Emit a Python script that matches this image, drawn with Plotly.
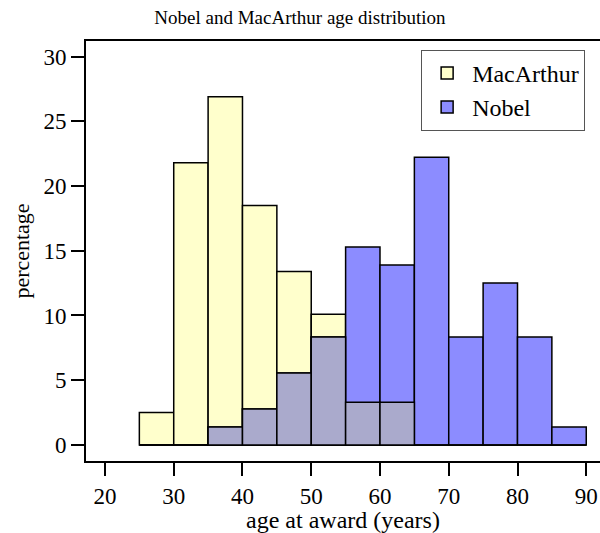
import plotly.graph_objects as go

bin_centers = [27.5, 32.5, 37.5, 42.5, 47.5, 52.5, 57.5, 62.5, 67.5, 72.5, 77.5, 82.5, 87.5]
macarthur = [2.5, 21.8, 26.9, 18.5, 13.4, 10.1, 3.3, 3.3, 0, 0, 0, 0, 0]
nobel = [0, 0, 1.39, 2.78, 5.56, 8.33, 15.28, 13.89, 22.22, 8.33, 12.5, 8.33, 1.39]
overlap = [min(a, b) for a, b in zip(macarthur, nobel)]

FONT = "Liberation Serif"
line = dict(color="black", width=1.5)

fig = go.Figure()
fig.add_trace(go.Bar(x=bin_centers, y=macarthur, width=5, name="MacArthur",
                     marker=dict(color="#ffffcc", line=line)))
fig.add_trace(go.Bar(x=bin_centers, y=nobel, width=5, name="Nobel",
                     marker=dict(color="#8c8cff", line=line)))
fig.add_trace(go.Bar(x=bin_centers, y=overlap, width=5, name="overlap", showlegend=False,
                     marker=dict(color="#aaaacc", line=line)))

fig.update_layout(
    width=600, height=533,
    margin=dict(l=86, r=0, t=41, b=72),
    barmode="overlay",
    plot_bgcolor="white", paper_bgcolor="white",
    font=dict(family=FONT, size=23, color="black"),
    title=dict(text="Nobel and MacArthur age distribution", x=0.5, xanchor="center",
               y=0.968, yanchor="middle", font=dict(family=FONT, size=19, color="black")),
    showlegend=True,
    legend=dict(x=0.652, y=0.979, xanchor="left", yanchor="top",
                bordercolor="#555", borderwidth=1, bgcolor="white",
                itemwidth=40,
                font=dict(family=FONT, size=24, color="black"), traceorder="normal"),
    xaxis=dict(range=[17.24, 92], tickvals=[20, 30, 40, 50, 60, 70, 80, 90],
               showline=True, linecolor="black", linewidth=2, mirror=True,
               ticks="outside", ticklen=13, tickwidth=2, tickcolor="black",
               tickfont=dict(family=FONT, size=23, color="black"),
               showgrid=False, zeroline=False,
               title=dict(text="age at award (years)", font=dict(family=FONT, size=24, color="black"), standoff=0)),
    yaxis=dict(range=[-1.24, 31.2], tickvals=[0, 5, 10, 15, 20, 25, 30],
               showline=True, linecolor="black", linewidth=2,
               ticks="outside", ticklen=13, tickwidth=2, tickcolor="black",
               tickfont=dict(family=FONT, size=23, color="black"),
               showgrid=False, zeroline=False,
               title=dict(text="percentage", font=dict(family=FONT, size=22, color="black"), standoff=8)),
)

fig.write_html("out.html")
